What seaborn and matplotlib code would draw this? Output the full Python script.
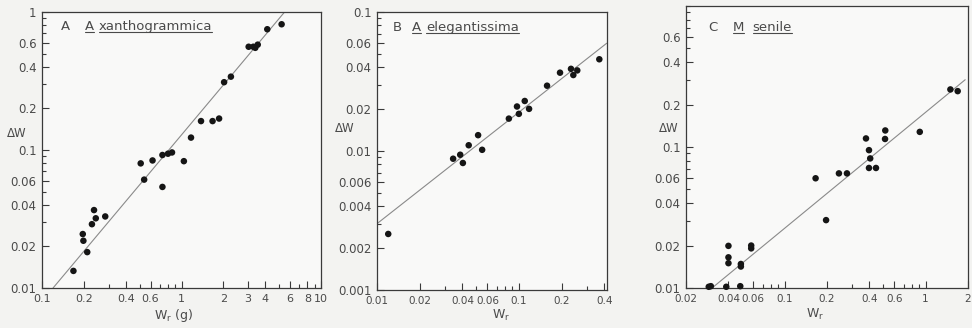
import numpy as np
import pandas as pd
import matplotlib
matplotlib.use("Agg")
import matplotlib.pyplot as plt
import seaborn as sns
from matplotlib.ticker import FixedLocator, FixedFormatter, NullFormatter
from matplotlib.lines import Line2D

# ---------------- data ----------------
a_wr = [0.168, 0.196, 0.198, 0.211, 0.228, 0.236, 0.243, 0.284, 0.51, 0.54, 0.62, 0.73,
        0.73, 0.80, 0.855, 1.04, 1.17, 1.38, 1.67, 1.86, 2.02, 2.26, 3.03, 3.27, 3.38,
        3.52, 4.12, 5.22]
a_dw = [0.0133, 0.0246, 0.022, 0.0182, 0.029, 0.0367, 0.032, 0.033, 0.080, 0.061, 0.084,
        0.092, 0.054, 0.094, 0.096, 0.083, 0.123, 0.162, 0.162, 0.169, 0.31, 0.34, 0.56,
        0.56, 0.55, 0.58, 0.75, 0.815]
a_line_wr = [0.12, 5.8]
a_line_dw = [0.01, 1.07]

b_wr = [0.0120, 0.0344, 0.0386, 0.0403, 0.0443, 0.0516, 0.0551, 0.085, 0.097, 0.100,
        0.110, 0.118, 0.158, 0.195, 0.233, 0.242, 0.258, 0.369]
b_dw = [0.00253, 0.0088, 0.0094, 0.0082, 0.0110, 0.0130, 0.0102, 0.0171, 0.0209, 0.0185,
        0.0229, 0.0201, 0.0295, 0.0366, 0.039, 0.0352, 0.038, 0.0457]
b_line_wr = [0.01, 0.416]
b_line_dw = [0.0030, 0.0596]

c_wr = [0.029, 0.030, 0.0386, 0.040, 0.040, 0.040, 0.0485, 0.049, 0.049, 0.058, 0.058,
        0.166, 0.197, 0.243, 0.277, 0.378, 0.397, 0.397, 0.405, 0.445, 0.516, 0.518,
        0.91, 1.50, 1.69]
c_dw = [0.0102, 0.0103, 0.0102, 0.0199, 0.0165, 0.0150, 0.0103, 0.0148, 0.0142, 0.020,
        0.0191, 0.060, 0.0303, 0.065, 0.065, 0.115, 0.095, 0.071, 0.083, 0.071, 0.114,
        0.131, 0.128, 0.256, 0.249]
c_line_wr = [0.0306, 1.91]
c_line_dw = [0.01, 0.30]

a_xticks = [0.1, 0.2, 0.4, 0.6, 1, 2, 3, 4, 6, 8, 10]
a_xlabels = ["0.1", "0.2", "0.4", "0.6", "1", "2", "3", "4", "6", "8", "10"]
a_yticks = [0.01, 0.02, 0.04, 0.06, 0.1, 0.2, 0.4, 0.6, 1]
a_ylabels = ["0.01", "0.02", "0.04", "0.06", "0.1", "0.2", "0.4", "0.6", "1"]

b_xticks = [0.01, 0.02, 0.04, 0.06, 0.1, 0.2, 0.4]
b_xlabels = ["0.01", "0.02", "0.04", "0.06", "0.1", "0.2", "0.4"]
b_yticks = [0.001, 0.002, 0.004, 0.006, 0.01, 0.02, 0.04, 0.06, 0.1]
b_ylabels = ["0.001", "0.002", "0.004", "0.006", "0.01", "0.02", "0.04", "0.06", "0.1"]

c_xticks = [0.02, 0.04, 0.06, 0.1, 0.2, 0.4, 0.6, 1, 2]
c_xlabels = ["0.02", "0.04", "0.06", "0.1", "0.2", "0.4", "0.6", "1", "2"]
c_yticks = [0.01, 0.02, 0.04, 0.06, 0.1, 0.2, 0.4, 0.6]
c_ylabels = ["0.01", "0.02", "0.04", "0.06", "0.1", "0.2", "0.4", "0.6"]

# ---------------- style ----------------
sns.set_style("ticks")
plt.rcParams["font.family"] = ["DejaVu Sans"]
TXT = "#4a4a4a"
SPINE = "#3a3a3a"

W, H = 972, 328
fig = plt.figure(figsize=(W / 100, H / 100), dpi=100, facecolor="#f3f3f1")


def box(l, t, r, b):
    return [l / W, (H - b) / H, (r - l) / W, (b - t) / H]


def minors(lo, hi, majors):
    vals = []
    d = 10.0 ** np.floor(np.log10(lo) - 1e-9)
    while d < hi * 1.0001:
        for k in range(1, 10):
            v = k * d
            if lo * 0.9999 <= v <= hi * 1.0001 and not any(abs(v - m) / m < 1e-6 for m in majors):
                vals.append(v)
        d *= 10
    return vals


panels = [
    dict(pos=box(42, 12, 321, 288), xlim=(0.1, 10), ylim=(0.01, 1),
         wr=a_wr, dw=a_dw, lwr=a_line_wr, ldw=a_line_dw,
         xt=a_xticks, xl=a_xlabels, yt=a_yticks, yl=a_ylabels,
         letter="A", genus="A", species="xanthogrammica",
         tx=(0.067, 0.155, 0.204), ty=0.949, xls=8),
    dict(pos=box(377, 12, 607, 290), xlim=(0.01, 0.418), ylim=(0.001, 0.1),
         wr=b_wr, dw=b_dw, lwr=b_line_wr, ldw=b_line_dw,
         xt=b_xticks, xl=b_xlabels, yt=b_yticks, yl=b_ylabels,
         letter="B", genus="A", species="elegantissima",
         tx=(0.070, 0.152, 0.215), ty=0.946, xls=7.5),
    dict(pos=box(686, 6, 968, 288), xlim=(0.02, 2), ylim=(0.01, 1),
         wr=c_wr, dw=c_dw, lwr=c_line_wr, ldw=c_line_dw,
         xt=c_xticks, xl=c_xlabels, yt=c_yticks, yl=c_ylabels,
         letter="C", genus="M", species="senile",
         tx=(0.079, 0.166, 0.236), ty=0.925, xls=7.5),
]

underlined = []
axes = []
for p in panels:
    ax = fig.add_axes(p["pos"])
    axes.append(ax)
    ax.set_facecolor("#f9f9f8")
    ax.set_xscale("log")
    ax.set_yscale("log")
    ax.set_xlim(*p["xlim"])
    ax.set_ylim(*p["ylim"])

    line_df = pd.DataFrame({"wr": p["lwr"], "dw": p["ldw"]})
    sns.lineplot(data=line_df, x="wr", y="dw", ax=ax, color="#8a8a8a", lw=0.8,
                 sort=False, estimator=None, zorder=2)
    pts = pd.DataFrame({"wr": p["wr"], "dw": p["dw"]})
    sns.scatterplot(data=pts, x="wr", y="dw", ax=ax, color="#151515", s=22,
                    edgecolor="none", linewidth=0, clip_on=False, zorder=3)

    ax.xaxis.set_major_locator(FixedLocator(p["xt"]))
    ax.xaxis.set_major_formatter(FixedFormatter(p["xl"]))
    ax.xaxis.set_minor_locator(FixedLocator(minors(p["xlim"][0], p["xlim"][1], p["xt"])))
    ax.xaxis.set_minor_formatter(NullFormatter())
    ax.yaxis.set_major_locator(FixedLocator(p["yt"]))
    ax.yaxis.set_major_formatter(FixedFormatter(p["yl"]))
    ax.yaxis.set_minor_locator(FixedLocator(minors(p["ylim"][0], p["ylim"][1], p["yt"])))
    ax.yaxis.set_minor_formatter(NullFormatter())
    ax.set_xlim(*p["xlim"])
    ax.set_ylim(*p["ylim"])

    ax.tick_params(which="both", direction="in", color=SPINE, width=0.8,
                   labelcolor=TXT)
    ax.tick_params(axis="y", labelsize=8.5)
    ax.tick_params(axis="x", labelsize=p["xls"])
    ax.tick_params(which="major", length=5, pad=4)
    ax.tick_params(which="minor", length=3)
    for s in ax.spines.values():
        s.set_visible(True)
        s.set_color(SPINE)
        s.set_linewidth(0.9)
    ax.set_xlabel("")
    ax.set_ylabel("")

    x1, x2, x3 = p["tx"]
    ax.text(x1, p["ty"], p["letter"], transform=ax.transAxes, fontsize=9.5,
            color=TXT, va="center", ha="left")
    t2 = ax.text(x2, p["ty"], p["genus"], transform=ax.transAxes, fontsize=9.5,
                 color=TXT, va="center", ha="left")
    t3 = ax.text(x3, p["ty"], p["species"], transform=ax.transAxes, fontsize=9.5,
                 color=TXT, va="center", ha="left")
    underlined += [t2, t3]


def ftext(x, y, s, **kw):
    fig.text(x / W, 1 - y / H, s, ha="center", va="center", color=TXT, **kw)


ftext(17, 134, "\u0394W", fontsize=8.5)
ftext(345, 128, "\u0394W", fontsize=8.5)
ftext(669, 128, "\u0394W", fontsize=8.5)
ftext(174, 316, r"W$_\mathregular{r}$ (g)", fontsize=9)
ftext(501, 315, r"W$_\mathregular{r}$", fontsize=9)
ftext(815, 314, r"W$_\mathregular{r}$", fontsize=9)

# underline genus and species names
fig.canvas.draw()
r = fig.canvas.get_renderer()
for t in underlined:
    bb = t.get_window_extent(renderer=r)
    y = bb.y0 + 0.5
    fig.add_artist(Line2D([bb.x0 / W, bb.x1 / W], [y / H, y / H],
                          transform=fig.transFigure, color=TXT, lw=0.8))

fig.savefig("out.png", dpi=100, facecolor=fig.get_facecolor())
